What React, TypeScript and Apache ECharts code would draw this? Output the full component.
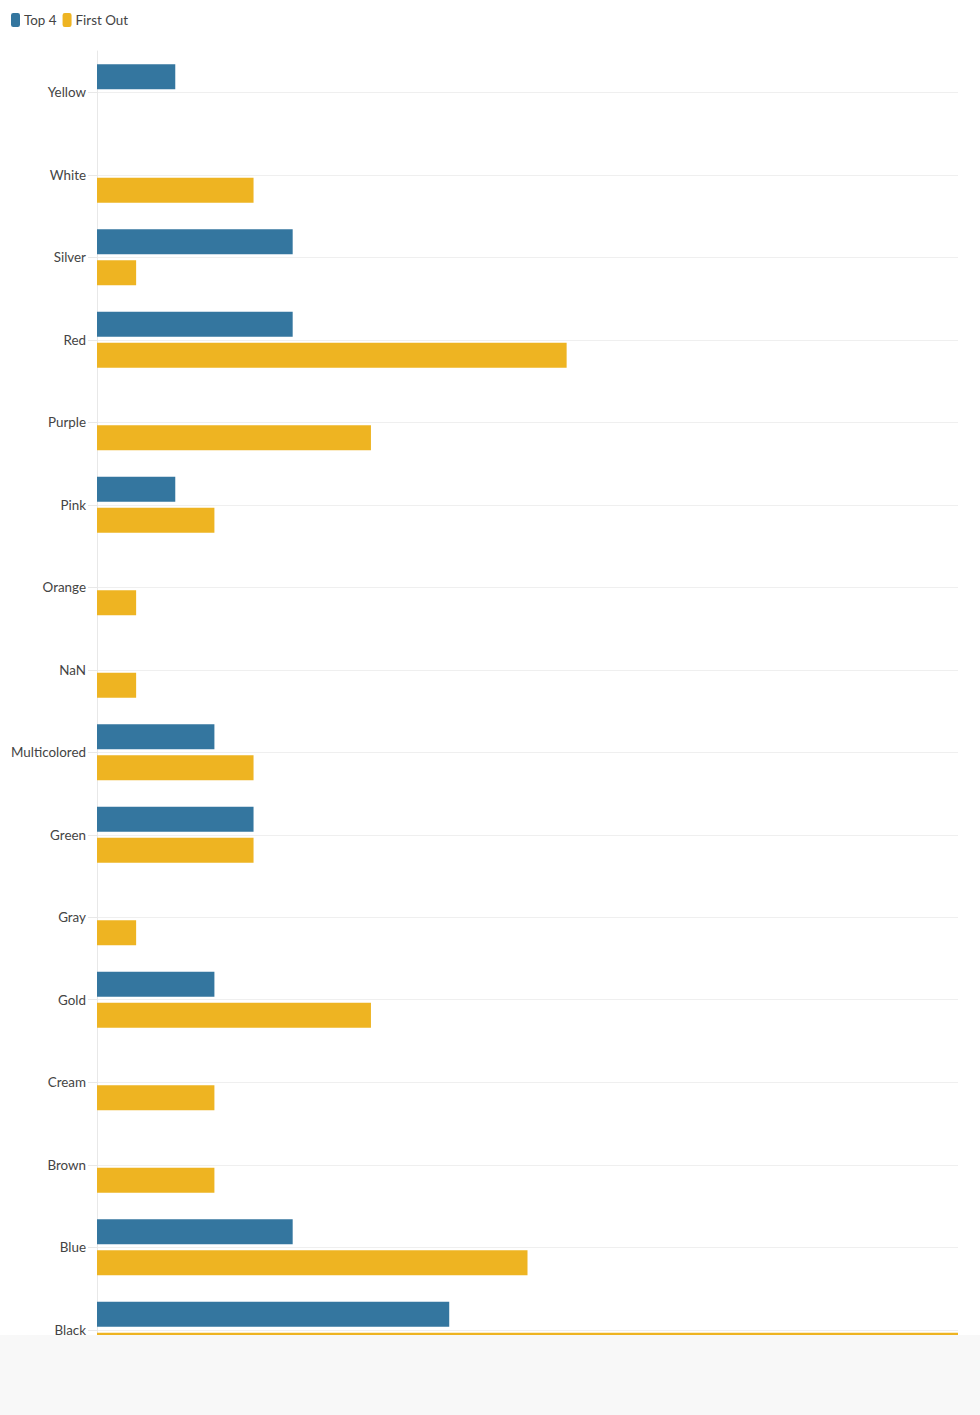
import React, { useEffect, useRef } from "react";
import * as echarts from "echarts";

const categories = [
  "Yellow", "White", "Silver", "Red", "Purple", "Pink", "Orange", "NaN",
  "Multicolored", "Green", "Gray", "Gold", "Cream", "Brown", "Blue", "Black",
];
const top4Values = [2, 0, 5, 5, 0, 2, 0, 0, 3, 4, 0, 3, 0, 0, 5, 9];
const firstOutValues = [0, 4, 1, 12, 7, 3, 1, 1, 4, 4, 1, 7, 3, 3, 11, 22];
const seriesNames = ["Top 4", "First Out"];
const colors = ["#34769f", "#eeb422"];

export default function App() {
  const ref = useRef<HTMLDivElement>(null);
  useEffect(() => {
    if (!ref.current) return;
    const chart = echarts.init(ref.current, null, { renderer: "svg" });
    const font = "Lato, 'Open Sans', sans-serif";
    chart.setOption({
      animation: false,
      color: colors,
      textStyle: { fontFamily: font },
      legend: {
        left: 11,
        top: 13,
        padding: 0,
        itemWidth: 9,
        itemHeight: 14,
        itemGap: 6,
        icon: "roundRect",
        textStyle: { fontSize: 13.4, color: "#444", padding: [0, 0, 0, -1] },
        data: seriesNames,
      },
      grid: { left: 97, right: 22, top: 51, bottom: 44, containLabel: false },
      xAxis: {
        type: "value",
        min: 0,
        max: 22,
        show: false,
      },
      yAxis: {
        type: "category",
        inverse: true,
        data: categories,
        axisLine: { show: true, lineStyle: { color: "#e8e8e8", width: 1 } },
        axisTick: { show: true, alignWithLabel: true, length: 9, lineStyle: { color: "#e8e8e8" } },
        axisLabel: { margin: 11, fontSize: 13.4, color: "#444", fontFamily: font },
        splitLine: { show: true, alignWithLabel: true, lineStyle: { color: "#efefef", width: 1 } },
      },
      series: [
        {
          name: seriesNames[0],
          type: "bar",
          data: top4Values,
          barWidth: 25,
          barGap: "24%",
          itemStyle: { color: colors[0] },
        },
        {
          name: seriesNames[1],
          type: "bar",
          data: firstOutValues,
          barWidth: 25,
          barGap: "24%",
          itemStyle: { color: colors[1] },
        },
      ],
      graphic: [
        {
          type: "rect",
          left: 0,
          top: 1335,
          z: 1000,
          shape: { width: 980, height: 80 },
          style: { fill: "#f8f8f8" },
        },
      ],
    });
    return () => chart.dispose();
  }, []);
  return (
    <div
      ref={ref}
      style={{ position: "absolute", left: 0, top: 0, width: 980, height: 1415, background: "#fff" }}
    />
  );
}
